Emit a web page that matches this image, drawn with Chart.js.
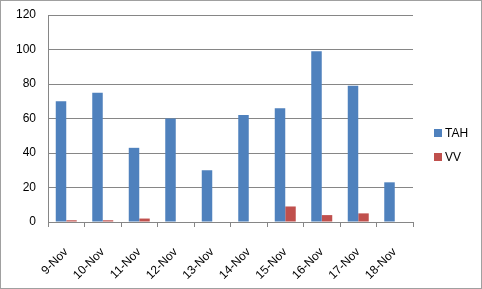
<!DOCTYPE html>
<html>
<head>
<meta charset="utf-8">
<script src="https://cdn.jsdelivr.net/npm/chart.js@4"></script>
<style>
  html, body { margin: 0; padding: 0; background: #fff; }
  #wrap { width: 482px; height: 289px; position: relative; }
</style>
</head>
<body>
<div id="wrap"><canvas id="chart"></canvas></div>
<script>
// data
const days = ['9-Nov', '10-Nov', '11-Nov', '12-Nov', '13-Nov', '14-Nov', '15-Nov', '16-Nov', '17-Nov', '18-Nov'];
const tahValues = [70, 75, 43, 60, 30, 62, 66, 99, 79, 23];
const vvValues = [1, 1, 2, 0, 0, 0, 9, 4, 5, 0];
const seriesNames = ['TAH', 'VV'];

const FONT = '"Liberation Sans", Arial, sans-serif';
const GRID = '#868686';

// legend drawn by hand so it sits where Excel put it
const sideLegend = {
    id: 'sideLegend',
    afterDraw: function (chart) {
        const ctx = chart.ctx;
        ctx.save();
        ctx.font = '12px ' + FONT;
        ctx.textBaseline = 'middle';
        chart.data.datasets.forEach(function (ds, i) {
            const y = 133 + i * 24;
            ctx.fillStyle = ds.backgroundColor;
            ctx.fillRect(434, y - 4, 8, 8);
            ctx.fillStyle = '#000';
            ctx.fillText(ds.label, 445, y + 1);
        });
        ctx.strokeStyle = '#a0a0a0';
        ctx.lineWidth = 1;
        ctx.strokeRect(0.5, 0.5, chart.width - 1, chart.height - 1);
        ctx.restore();
    }
};

new Chart(document.getElementById('chart'), {
    type: 'bar',
    data: {
        labels: days,
        datasets: [
            { label: seriesNames[0], data: tahValues, backgroundColor: '#4F81BD' },
            { label: seriesNames[1], data: vvValues, backgroundColor: '#C0504D' }
        ]
    },
    options: {
        responsive: true,
        maintainAspectRatio: false,
        animation: false,
        layout: { padding: { top: 15, right: 69, left: 0, bottom: 0 } },
        datasets: { bar: { categoryPercentage: 0.575, barPercentage: 1 } },
        plugins: { legend: { display: false }, tooltip: { enabled: false } },
        scales: {
            x: {
                grid: { display: true, drawOnChartArea: false, drawTicks: true, tickLength: 5, color: GRID, offset: true },
                border: { color: GRID },
                ticks: { color: '#000', font: { family: FONT, size: 12 }, maxRotation: 45, minRotation: 45, padding: 18 },
                afterFit: function (scale) { scale.height = 67; }
            },
            y: {
                min: 0,
                max: 120,
                ticks: { stepSize: 20, color: '#000', font: { family: FONT, size: 12 }, padding: 12 },
                grid: { color: GRID, drawTicks: false },
                border: { color: GRID },
                afterFit: function (scale) {
                    // fixed axis width; tick padding must not push the plot down
                    scale.width = 48;
                    scale.paddingTop = 0;
                    scale.paddingBottom = 0;
                }
            }
        }
    },
    plugins: [sideLegend]
});
</script>
</body>
</html>
